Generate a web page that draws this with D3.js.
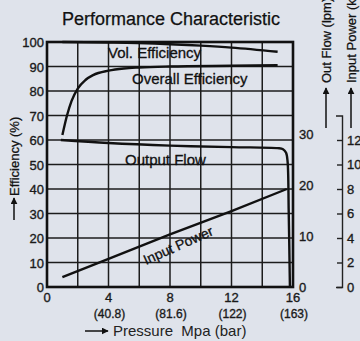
<!DOCTYPE html>
<html>
<head>
<meta charset="utf-8">
<script src="https://cdn.jsdelivr.net/npm/d3@7"></script>
<style>
  body { margin: 0; background: #dfe3eb; }
  svg { display: block; font-family: "Liberation Sans", Arial, sans-serif; }
  .tick-lbl { font-size: 13px; fill: #1a1a1a; stroke: #1a1a1a; stroke-width: 0.35; }
  .curve { fill: none; stroke: #111; stroke-width: 2.4; }
  .grid { stroke: #1c1c1c; stroke-width: 1.5; }
  .curve-lbl { font-size: 15px; fill: #111; stroke: #111; stroke-width: 0.3; }
  .ttl { fill: #111; stroke: #111; stroke-width: 0.25; }
</style>
</head>
<body>
<svg id="chart"></svg>
<script>
// tick labels
var pressureTicks = [0, 4, 8, 12, 16];
var barLabels = ['', '(40.8)', '(81.6)', '(122)', '(163)'];
var effTicks = [0, 10, 20, 30, 40, 50, 60, 70, 80, 90, 100];
var flowTicks = [0, 10, 20, 30];
var powerTicks = [0, 2, 4, 6, 8, 10, 12];

// series (pressure in MPa)
var volEffP = [1, 4, 7, 10, 12, 15];
var volEff = [100, 99.8, 99.4, 98.5, 97.7, 96.0];

var overallP = [1.0, 1.3, 1.6, 2.0, 2.5, 3.0, 4.0, 5.0, 6.0, 8.0, 12.0, 15.0];
var overallEff = [62, 70, 76, 81, 84.5, 86.5, 88.3, 89.2, 89.6, 90, 90.3, 90.5];

var flowP = [0.9, 4, 8, 12, 15.0, 15.35, 15.55, 15.65, 15.72, 15.8];
var flowLpm = [28.8, 28.2, 27.7, 27.4, 27.2, 27.0, 26.3, 24.5, 15, 0];

var powerP = [1, 4, 8, 12, 15.6];
var powerKw = [0.8, 2.3, 4.3, 6.2, 8.0];

var width = 360, height = 341;
var svg = d3.select('#chart').attr('width', width).attr('height', height);

var x = d3.scaleLinear().domain([0, 16]).range([47, 293]);
var yEff = d3.scaleLinear().domain([0, 100]).range([287, 42]);
var yFlow = d3.scaleLinear().domain([0, 48]).range([287, 42]);
var yPow = d3.scaleLinear().domain([0, 20]).range([287, 42]);

// title
svg.append('text')
    .attr('class', 'ttl')
    .attr('x', 171).attr('y', 25)
    .attr('text-anchor', 'middle')
    .style('font-size', '18px')
    .text('Performance Characteristic');

// grid
svg.selectAll('.hgrid')
    .data(effTicks.slice(1, -1))
    .enter().append('line')
    .attr('class', 'grid')
    .attr('x1', x(0)).attr('x2', x(16))
    .attr('y1', function(d) { return yEff(d); })
    .attr('y2', function(d) { return yEff(d); });
svg.selectAll('.vgrid')
    .data(d3.range(2, 16, 2))
    .enter().append('line')
    .attr('class', 'grid')
    .attr('y1', yEff(0)).attr('y2', yEff(100))
    .attr('x1', function(d) { return x(d); })
    .attr('x2', function(d) { return x(d); });

// frame
svg.append('rect')
    .attr('x', x(0)).attr('y', yEff(100))
    .attr('width', x(16) - x(0)).attr('height', yEff(0) - yEff(100))
    .attr('fill', 'none').attr('stroke', '#111').attr('stroke-width', 2.6);

// left efficiency labels
svg.selectAll('.eff-lbl')
    .data(effTicks)
    .enter().append('text')
    .attr('class', 'tick-lbl')
    .attr('x', 44)
    .attr('y', function(d) { return yEff(d) + 5; })
    .attr('text-anchor', 'end')
    .text(function(d) { return d; });

// pressure labels
svg.selectAll('.p-lbl')
    .data(pressureTicks)
    .enter().append('text')
    .attr('class', 'tick-lbl')
    .attr('x', function(d) { return x(d); })
    .attr('y', 302)
    .attr('text-anchor', 'middle')
    .text(function(d) { return d; });
svg.selectAll('.bar-lbl')
    .data(pressureTicks)
    .enter().append('text')
    .attr('class', 'tick-lbl')
    .style('font-size', '12px')
    .attr('x', function(d) { return x(d) + 1; })
    .attr('y', 318)
    .attr('text-anchor', 'middle')
    .text(function(d, i) { return barLabels[i]; });

// flow labels (no axis line)
svg.selectAll('.flow-lbl')
    .data(flowTicks)
    .enter().append('text')
    .attr('class', 'tick-lbl')
    .attr('x', 299)
    .attr('y', function(d) { return yFlow(d) + 5; })
    .text(function(d) { return d; });

// power axis
var powAxis = d3.axisRight(d3.scaleLinear().domain([0, 14]).range([yPow(0), yPow(14)]))
    .tickValues(powerTicks)
    .tickSizeInner(-5)
    .tickSizeOuter(-6)
    .tickPadding(5);
var pg = svg.append('g').attr('transform', 'translate(342,0)').call(powAxis);
pg.select('.domain').attr('stroke', '#222').attr('stroke-width', 1.4);
pg.selectAll('.tick line').attr('stroke', '#222').attr('stroke-width', 1.4);
pg.selectAll('.tick text')
    .attr('class', 'tick-lbl')
    .style('font-size', '13px')
    .style('font-family', '"Liberation Sans", Arial, sans-serif');

// curves
var line = d3.line().curve(d3.curveMonotoneX);
function pts(px, py, sy) {
    return px.map(function(p, i) { return [x(p), sy(py[i])]; });
}
svg.append('path').attr('class', 'curve')
    .attr('d', line(pts(volEffP, volEff, yEff)));
svg.append('path').attr('class', 'curve')
    .attr('d', line(pts(overallP, overallEff, yEff)));
svg.append('path').attr('class', 'curve')
    .attr('d', d3.line().curve(d3.curveCatmullRom)(pts(flowP, flowLpm, yFlow)));
svg.append('path').attr('class', 'curve')
    .attr('d', d3.line()(pts(powerP, powerKw, yPow)));

// curve labels
svg.append('text').attr('class', 'curve-lbl').attr('x', 108).attr('y', 58).text('Vol. Efficiency');
svg.append('text').attr('class', 'curve-lbl').attr('x', 132).attr('y', 84).text('Overall Efficiency');
svg.append('text').attr('class', 'curve-lbl').attr('x', 125).attr('y', 165).text('Output Flow');
svg.append('text').attr('class', 'curve-lbl')
    .attr('transform', 'translate(146,265) rotate(-24)')
    .style('font-size', '14px')
    .text('Input Power');

// arrows
svg.append('defs').append('marker')
    .attr('id', 'ah')
    .attr('viewBox', '0 0 10 10')
    .attr('refX', 9).attr('refY', 5)
    .attr('markerWidth', 7).attr('markerHeight', 7)
    .attr('markerUnits', 'userSpaceOnUse')
    .attr('orient', 'auto')
    .append('path').attr('d', 'M0,0 L10,5 L0,10 Z').attr('fill', '#111');

function arrow(x1, y1, x2, y2) {
    svg.append('line')
        .attr('x1', x1).attr('y1', y1).attr('x2', x2).attr('y2', y2)
        .attr('stroke', '#111').attr('stroke-width', 1.5)
        .attr('marker-end', 'url(#ah)');
}

// axis titles
arrow(14, 220, 14, 198);
svg.append('text')
    .attr('class', 'ttl')
    .attr('transform', 'translate(19,196) rotate(-90)')
    .style('font-size', '13px')
    .text('Efficiency (%)');

arrow(326, 128, 326, 88);
svg.append('text')
    .attr('class', 'ttl')
    .attr('transform', 'translate(331,83) rotate(-90)')
    .style('font-size', '13px')
    .text('Out Flow (lpm)');

arrow(351, 128, 351, 88);
svg.append('text')
    .attr('class', 'ttl')
    .attr('transform', 'translate(356,83) rotate(-90)')
    .style('font-size', '13px')
    .text('Input Power (kW)');

arrow(85, 331, 108, 331);
svg.append('text')
    .attr('x', 113).attr('y', 336)
    .style('font-size', '15px').style('fill', '#222')
    .text('Pressure\u00a0\u00a0Mpa (bar)');
</script>
</body>
</html>
